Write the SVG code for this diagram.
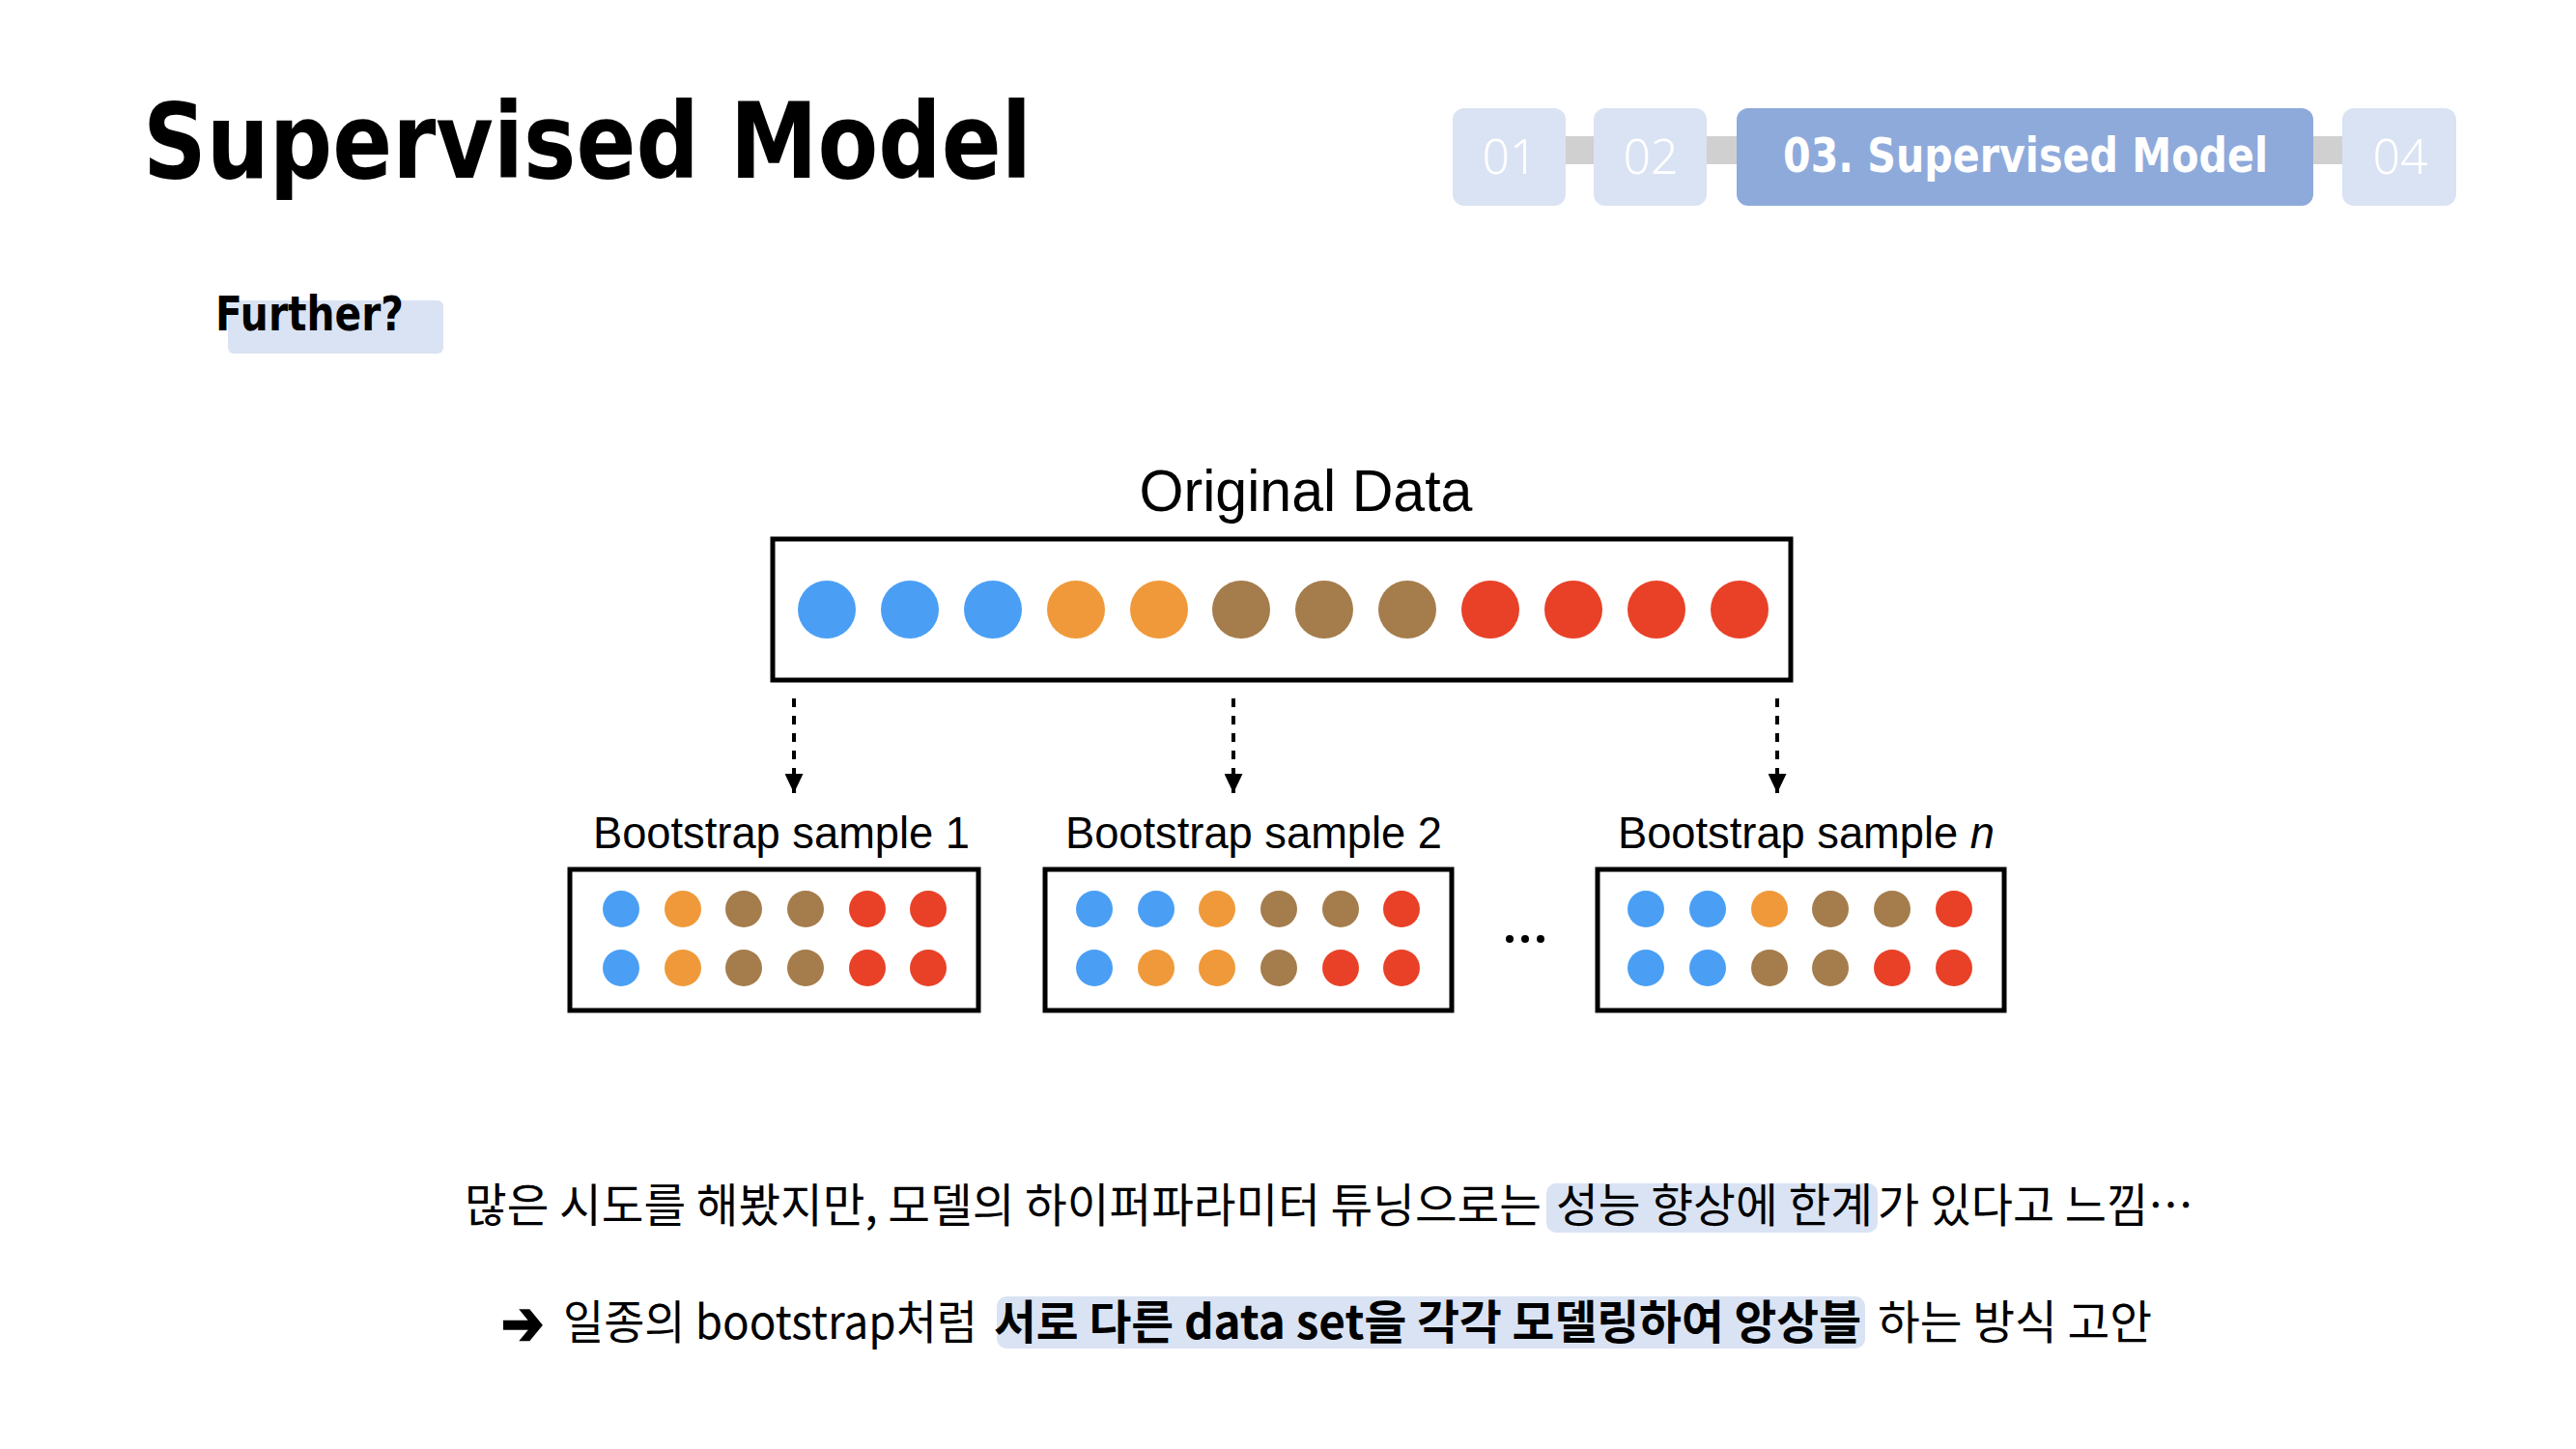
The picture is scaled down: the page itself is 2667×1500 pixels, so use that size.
<svg xmlns="http://www.w3.org/2000/svg" width="2667" height="1500" viewBox="0 0 2667 1500">
  <defs>
    <style>
      .title { font-family: "DejaVu Sans", "Noto Sans", sans-serif; font-weight: bold; fill: #000; }
      .nav-box { fill: #dae3f3; }
      .nav-active { fill: #8eaadb; }
      .nav-txt { font-family: "Noto Sans", "DejaVu Sans", sans-serif; font-weight: 300; fill: #fff; font-size: 50px; text-anchor: middle; }
      .nav-txt-b { font-family: "DejaVu Sans", "Noto Sans", sans-serif; font-weight: bold; fill: #fff; font-size: 50px; }
      .hl { fill: #dae3f3; }
      .lbl { font-family: "Liberation Sans", Arial, sans-serif; fill: #000; }
      .frame { fill: #fff; stroke: #000; stroke-width: 5; }
      .b { fill: #4a9ff5; }
      .o { fill: #f0993a; }
      .br { fill: #a57c4c; }
      .r { fill: #e84127; }
      .kr { font-family: "Noto Sans CJK KR", "Noto Sans", sans-serif; font-size: 48px; fill: #000; }
      .kr-b { font-family: "Noto Sans CJK KR", "Noto Sans", sans-serif; font-size: 48px; font-weight: bold; fill: #000; }
      .dash { stroke: #000; stroke-width: 4; stroke-dasharray: 9 9; fill: none; }
    </style>
    <marker id="arrowhead" viewBox="0 0 20 19" refX="20" refY="9.5" markerWidth="20" markerHeight="19" markerUnits="userSpaceOnUse" orient="auto">
      <path d="M0,0 L20,9.5 L0,19 z" fill="#000"/>
    </marker>
  </defs>

  <rect width="2667" height="1500" fill="#fff"/>

  <!-- page title -->
  <g id="title">
    <text class="title" x="148" y="184" font-size="108" textLength="920" lengthAdjust="spacingAndGlyphs">Supervised Model</text>
  </g>

  <!-- section navigation -->
  <g id="nav">
    <rect x="1560" y="141" width="920" height="29" fill="#d0d0d0"/>
    <g id="nav-01">
      <rect class="nav-box" x="1504" y="112" width="117" height="101" rx="12"/>
      <text class="nav-txt" x="1563" y="180">01</text>
    </g>
    <g id="nav-02">
      <rect class="nav-box" x="1650" y="112" width="117" height="101" rx="12"/>
      <text class="nav-txt" x="1709" y="180">02</text>
    </g>
    <g id="nav-03">
      <rect class="nav-active" x="1798" y="112" width="597" height="101" rx="12"/>
      <text class="nav-txt-b" x="1846" y="178" textLength="502" lengthAdjust="spacingAndGlyphs">03. Supervised Model</text>
    </g>
    <g id="nav-04">
      <rect class="nav-box" x="2425" y="112" width="118" height="101" rx="12"/>
      <text class="nav-txt" x="2485" y="180">04</text>
    </g>
  </g>

  <!-- subheading -->
  <g id="further">
    <rect class="hl" x="236" y="311" width="223" height="55" rx="6"/>
    <text class="title" x="223" y="342" font-size="50" textLength="195" lengthAdjust="spacingAndGlyphs">Further?</text>
  </g>

  <!-- original data -->
  <g id="original-data">
    <text class="lbl" x="1352" y="529" font-size="62" text-anchor="middle" textLength="345" lengthAdjust="spacingAndGlyphs">Original Data</text>
    <rect class="frame" x="800" y="558" width="1054" height="146"/>
    <circle class="b" cx="856" cy="631" r="30"/>
    <circle class="b" cx="942" cy="631" r="30"/>
    <circle class="b" cx="1028" cy="631" r="30"/>
    <circle class="o" cx="1114" cy="631" r="30"/>
    <circle class="o" cx="1200" cy="631" r="30"/>
    <circle class="br" cx="1285" cy="631" r="30"/>
    <circle class="br" cx="1371" cy="631" r="30"/>
    <circle class="br" cx="1457" cy="631" r="30"/>
    <circle class="r" cx="1543" cy="631" r="30"/>
    <circle class="r" cx="1629" cy="631" r="30"/>
    <circle class="r" cx="1715" cy="631" r="30"/>
    <circle class="r" cx="1801" cy="631" r="30"/>
  </g>

  <!-- sampling arrows -->
  <g id="connectors">
    <line class="dash" x1="822" y1="723" x2="822" y2="821" marker-end="url(#arrowhead)"/>
    <line class="dash" x1="1277" y1="723" x2="1277" y2="821" marker-end="url(#arrowhead)"/>
    <line class="dash" x1="1840" y1="723" x2="1840" y2="821" marker-end="url(#arrowhead)"/>
  </g>

  <!-- bootstrap sample 1 -->
  <g id="sample-1">
    <text class="lbl" x="809" y="878" font-size="46" text-anchor="middle" textLength="390" lengthAdjust="spacingAndGlyphs">Bootstrap sample 1</text>
    <rect class="frame" x="590" y="900" width="423" height="146"/>
    <circle class="b" cx="643" cy="941" r="19"/>
    <circle class="o" cx="707" cy="941" r="19"/>
    <circle class="br" cx="770" cy="941" r="19"/>
    <circle class="br" cx="834" cy="941" r="19"/>
    <circle class="r" cx="898" cy="941" r="19"/>
    <circle class="r" cx="961" cy="941" r="19"/>
    <circle class="b" cx="643" cy="1002" r="19"/>
    <circle class="o" cx="707" cy="1002" r="19"/>
    <circle class="br" cx="770" cy="1002" r="19"/>
    <circle class="br" cx="834" cy="1002" r="19"/>
    <circle class="r" cx="898" cy="1002" r="19"/>
    <circle class="r" cx="961" cy="1002" r="19"/>
  </g>

  <!-- bootstrap sample 2 -->
  <g id="sample-2">
    <text class="lbl" x="1298" y="878" font-size="46" text-anchor="middle" textLength="390" lengthAdjust="spacingAndGlyphs">Bootstrap sample 2</text>
    <rect class="frame" x="1082" y="900" width="421" height="146"/>
    <circle class="b" cx="1133" cy="941" r="19"/>
    <circle class="b" cx="1197" cy="941" r="19"/>
    <circle class="o" cx="1260" cy="941" r="19"/>
    <circle class="br" cx="1324" cy="941" r="19"/>
    <circle class="br" cx="1388" cy="941" r="19"/>
    <circle class="r" cx="1451" cy="941" r="19"/>
    <circle class="b" cx="1133" cy="1002" r="19"/>
    <circle class="o" cx="1197" cy="1002" r="19"/>
    <circle class="o" cx="1260" cy="1002" r="19"/>
    <circle class="br" cx="1324" cy="1002" r="19"/>
    <circle class="r" cx="1388" cy="1002" r="19"/>
    <circle class="r" cx="1451" cy="1002" r="19"/>
  </g>

  <!-- ellipsis between samples -->
  <g id="more">
    <circle cx="1563" cy="972" r="4" fill="#000"/>
    <circle cx="1579" cy="972" r="4" fill="#000"/>
    <circle cx="1595" cy="972" r="4" fill="#000"/>
  </g>

  <!-- bootstrap sample n -->
  <g id="sample-n">
    <text class="lbl" x="1675" y="878" font-size="46" textLength="390" lengthAdjust="spacingAndGlyphs">Bootstrap sample <tspan font-style="italic">n</tspan></text>
    <rect class="frame" x="1654" y="900" width="421" height="146"/>
    <circle class="b" cx="1704" cy="941" r="19"/>
    <circle class="b" cx="1768" cy="941" r="19"/>
    <circle class="o" cx="1832" cy="941" r="19"/>
    <circle class="br" cx="1895" cy="941" r="19"/>
    <circle class="br" cx="1959" cy="941" r="19"/>
    <circle class="r" cx="2023" cy="941" r="19"/>
    <circle class="b" cx="1704" cy="1002" r="19"/>
    <circle class="b" cx="1768" cy="1002" r="19"/>
    <circle class="br" cx="1832" cy="1002" r="19"/>
    <circle class="br" cx="1895" cy="1002" r="19"/>
    <circle class="r" cx="1959" cy="1002" r="19"/>
    <circle class="r" cx="2023" cy="1002" r="19"/>
  </g>

  <!-- commentary line 1 -->
  <g id="note-1">
    <rect class="hl" x="1601" y="1225" width="343" height="51" rx="10"/>
    <text class="kr" x="481" y="1265" textLength="1115" lengthAdjust="spacingAndGlyphs">많은 시도를 해봤지만, 모델의 하이퍼파라미터 튜닝으로는</text>
    <text class="kr" x="1611" y="1265" textLength="328" lengthAdjust="spacingAndGlyphs">성능 향상에 한계</text>
    <text class="kr" x="1944" y="1265" textLength="327" lengthAdjust="spacingAndGlyphs">가 있다고 느낌…</text>
  </g>

  <!-- commentary line 2 -->
  <g id="note-2">
    <rect class="hl" x="1032" y="1342" width="899" height="54" rx="10"/>
    <text x="519" y="1392" font-family="DejaVu Sans, sans-serif" font-weight="bold" font-size="64" stroke="#000" stroke-width="2.5" textLength="44" lengthAdjust="spacingAndGlyphs">➔</text>
    <text class="kr" x="583" y="1386" textLength="429" lengthAdjust="spacingAndGlyphs">일종의 bootstrap처럼</text>
    <text class="kr-b" x="1029" y="1386" textLength="898" lengthAdjust="spacingAndGlyphs">서로 다른 data set을 각각 모델링하여 앙상블</text>
    <text class="kr" x="1944" y="1386" textLength="284" lengthAdjust="spacingAndGlyphs">하는 방식 고안</text>
  </g>
</svg>
